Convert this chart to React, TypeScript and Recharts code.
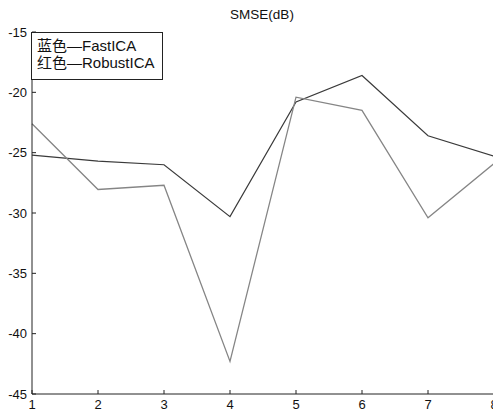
import React from 'react';
import { LineChart, Line, XAxis, YAxis } from 'recharts';

const xValues = [1, 2, 3, 4, 5, 6, 7, 8];
const fastICA = [-25.2, -25.7, -26.0, -30.3, -20.8, -18.6, -23.6, -25.3];
const robustICA = [-22.6, -28.05, -27.7, -42.3, -20.4, -21.5, -30.4, -25.9];
const yTicks = [-45, -40, -35, -30, -25, -20, -15];
const title = 'SMSE(dB)';
const legendLines = ['蓝色—FastICA', '红色—RobustICA'];

const data = xValues.map((x, i) => ({ x, fast: fastICA[i], robust: robustICA[i] }));

const FONT = '"Liberation Sans", Arial, sans-serif';
const tickStyle = { fill: '#111', fontSize: 13, fontFamily: FONT };

export default function App() {
  return (
    <div style={{ position: 'fixed', left: 0, top: 0, width: 493, height: 414, overflow: 'hidden', background: '#fff' }}>
      <div style={{ position: 'absolute', left: 0, top: 0 }}>
        <LineChart width={500} height={414} data={data} margin={{ top: 32, right: 6, bottom: 0, left: 0 }}>
          <XAxis
            dataKey="x"
            type="number"
            domain={[1, 8]}
            ticks={xValues}
            height={20}
            tick={tickStyle}
            tickSize={-4}
            tickMargin={10}
            axisLine={{ stroke: '#222' }}
            tickLine={{ stroke: '#222' }}
            interval={0}
          />
          <XAxis
            xAxisId="top"
            orientation="top"
            dataKey="x"
            type="number"
            domain={[1, 8]}
            ticks={xValues}
            height={0}
            tick={false}
            tickSize={-4}
            axisLine={{ stroke: '#222' }}
            tickLine={{ stroke: '#222' }}
          />
          <YAxis
            type="number"
            domain={[-45, -15]}
            ticks={yTicks}
            width={32}
            tick={tickStyle}
            tickSize={-4}
            tickMargin={9}
            axisLine={{ stroke: '#222' }}
            tickLine={{ stroke: '#222' }}
            interval={0}
          />
          <YAxis
            yAxisId="right"
            orientation="right"
            type="number"
            domain={[-45, -15]}
            ticks={yTicks}
            width={0}
            tick={false}
            tickSize={-4}
            axisLine={{ stroke: '#222' }}
            tickLine={{ stroke: '#222' }}
          />
          <Line dataKey="fast" stroke="#3a3a3a" strokeWidth={1.2} dot={false} isAnimationActive={false} />
          <Line dataKey="robust" stroke="#858585" strokeWidth={1.3} dot={false} isAnimationActive={false} />
        </LineChart>
      </div>
      <div
        style={{
          position: 'absolute',
          left: 262 - 60,
          width: 120,
          top: 7,
          textAlign: 'center',
          fontFamily: FONT,
          fontSize: 13.5,
          lineHeight: '16px',
          color: '#111',
        }}
      >
        {title}
      </div>
      <div
        style={{
          position: 'absolute',
          left: 31,
          top: 32,
          width: 132,
          height: 48,
          border: '1px solid #222',
          background: '#fff',
          boxSizing: 'border-box',
          padding: '4px 0 0 5px',
          fontFamily: '"Liberation Sans", Arial, "Noto Sans CJK SC", sans-serif',
          fontSize: 15,
          lineHeight: '17px',
          color: '#111',
          whiteSpace: 'nowrap',
        }}
      >
        {legendLines.map((t) => (
          <div key={t}>{t}</div>
        ))}
      </div>
    </div>
  );
}
